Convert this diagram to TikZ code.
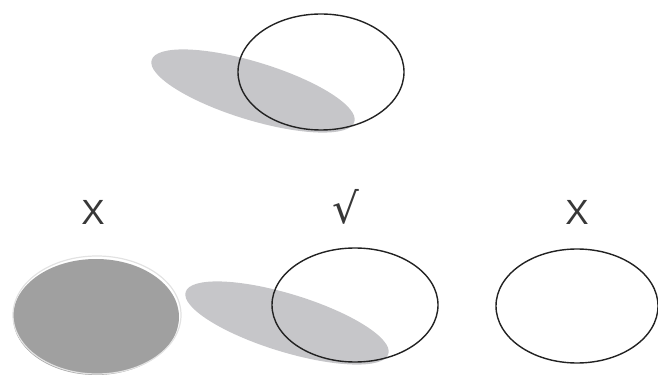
\documentclass[tikz,border=0pt]{standalone}
\usepackage{fontspec}
\setmainfont{Liberation Sans}
\newfontfamily\symfont{DejaVu Sans}
\usepackage{tikz}
\definecolor{shadowgray}{HTML}{C6C6C9}
\definecolor{solidgray}{HTML}{A0A0A0}
\definecolor{rimgray}{HTML}{E2E2E2}
\definecolor{inkdark}{HTML}{222222}
\tikzset{
  ring/.style={draw=inkdark, line width=1.4pt},
  shade/.style={fill=shadowgray, draw=none},
  mark label/.style={font=\fontsize{35}{38}\selectfont, text=inkdark!90, inner sep=0pt},
}

\begin{document}
\begin{tikzpicture}[x=1pt, y=-1pt]
  \useasboundingbox (0,0) rectangle (658,379);

  % upper pair
  \fill[shade, rotate around={-17:(253,91)}] (253,91) ellipse [x radius=106, y radius=29];
  \draw[ring] (321,72) ellipse [x radius=83, y radius=58];

  % lower row
  \fill[solidgray] (96,317) ellipse [x radius=83, y radius=58];
  \draw[rimgray, line width=1.2pt] (97,315) ellipse [x radius=84, y radius=59];

  \fill[shade, rotate around={-17:(287,323)}] (287,323) ellipse [x radius=106, y radius=29];
  \draw[ring] (355,305) ellipse [x radius=83, y radius=57];

  \draw[ring] (577,306) ellipse [x radius=81, y radius=57];

  % marks
  \node[mark label] (markL) at (93,212) {X};
  \node[mark label, font=\symfont\fontsize{42}{46}\selectfont] (markM) at (346,207) {√};
  \node[mark label] (markR) at (577,212) {X};
\end{tikzpicture}
\end{document}
